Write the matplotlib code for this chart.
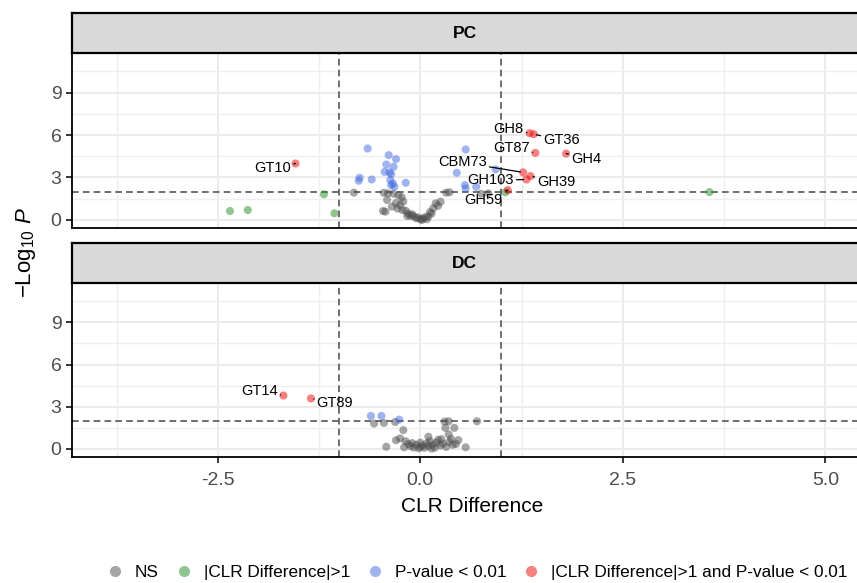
import numpy as np
import matplotlib
matplotlib.use("Agg")
import matplotlib.pyplot as plt
from matplotlib.lines import Line2D

plt.rcParams['font.family'] = ['Liberation Sans', 'DejaVu Sans']
plt.rcParams['mathtext.fontset'] = 'custom'
plt.rcParams['mathtext.rm'] = 'Liberation Sans'
plt.rcParams['mathtext.it'] = 'Liberation Sans:italic'

# ---- data: PC panel ----
pc_ns_x = [-0.82, -0.45, -0.40, -0.33, -0.27, -0.23, -0.21, -0.41, -0.30, -0.35, -0.43,
           -0.28, -0.22, -0.18, -0.15, -0.10, -0.08, -0.03, 0.00, 0.03, 0.06, 0.10, 0.14,
           0.16, 0.19, 0.25, 0.32, 0.36, 0.84, 0.75, -0.12, -0.05, 0.08, 0.12, -0.25, 0.22,
           -0.46, -0.16, 0.02]
pc_ns_y = [1.93, 1.92, 1.88, 1.85, 1.75, 1.60, 1.30, 1.41, 1.20, 0.94, 0.59,
           0.80, 0.70, 0.65, 0.45, 0.40, 0.25, 0.18, 0.05, 0.10, 0.20, 0.25, 0.45,
           0.82, 1.17, 1.29, 1.93, 1.95, 1.88, 1.85, 0.30, 0.12, 0.05, 0.55, 1.05, 1.00,
           0.63, 0.28, 0.00]
pc_fc_x = [-1.19, -2.35, -2.13, -1.06, 1.05, 3.57]
pc_fc_y = [1.81, 0.63, 0.70, 0.47, 1.95, 1.97]
pc_p_x = [-0.65, -0.39, -0.30, -0.42, -0.33, -0.44, -0.38, -0.36, -0.75, -0.76, -0.60,
          -0.37, -0.34, -0.18, -0.32, -0.36, 0.56, 0.45, 0.93, 0.55, 0.56, 0.69]
pc_p_y = [5.05, 4.58, 4.30, 3.92, 3.76, 3.40, 3.36, 3.24, 2.98, 2.77, 2.86,
          2.82, 2.58, 2.63, 2.35, 2.46, 4.98, 3.33, 3.57, 2.46, 2.23, 2.35]
pc_sig_lab = ['GT10', 'GH8', 'GT36', 'GT87', 'GH4', 'CBM73', 'GH103', 'GH39', 'GH59']
pc_sig_x = [-1.54, 1.35, 1.40, 1.42, 1.80, 1.27, 1.31, 1.36, 1.08]
pc_sig_y = [3.99, 6.13, 6.06, 4.74, 4.69, 3.36, 2.86, 3.10, 2.11]

# ---- data: DC panel ----
dc_ns_x = [-0.57, -0.45, -0.31, 0.30, 0.35, 0.70, 0.31, 0.42, -0.21, 0.35, -0.25, -0.30,
           0.47, -0.42, 0.56, -0.15, -0.12, -0.08, -0.05, -0.02, 0.00, 0.03, 0.05, 0.08,
           0.10, 0.12, 0.15, 0.18, 0.20, 0.22, 0.25, 0.28, 0.32, 0.36, 0.40, 0.44, -0.18,
           0.00, 0.14, -0.10, 0.26, 0.38, 0.10, -0.20]
dc_ns_y = [1.81, 1.85, 1.92, 1.95, 1.97, 1.97, 1.50, 1.50, 1.34, 1.04, 0.75, 0.62,
           0.63, 0.16, 0.12, 0.35, 0.20, 0.10, 0.30, 0.05, 0.15, 0.25, 0.08, 0.40,
           0.20, 0.55, 0.30, 0.10, 0.45, 0.65, 0.25, 0.38, 0.15, 0.50, 0.30, 0.35, 0.55,
           0.45, 0.02, 0.42, 0.70, 0.72, 0.87, 0.12]
dc_fc_x = []
dc_fc_y = []
dc_p_x = [-0.61, -0.48, -0.26]
dc_p_y = [2.35, 2.35, 2.09]
dc_sig_lab = ['GT14', 'GT89']
dc_sig_x = [-1.69, -1.35]
dc_sig_y = [3.80, 3.59]

panels = [
    ('PC', pc_ns_x, pc_ns_y, pc_fc_x, pc_fc_y, pc_p_x, pc_p_y, pc_sig_x, pc_sig_y, pc_sig_lab),
    ('DC', dc_ns_x, dc_ns_y, dc_fc_x, dc_fc_y, dc_p_x, dc_p_y, dc_sig_x, dc_sig_y, dc_sig_lab),
]

# label offsets in pixels
label_offsets = {
    'GT10': (-23, -5), 'GH8': (-21, 4), 'GT36': (28, -6), 'GT87': (-24, 5),
    'GH4': (20, -5), 'CBM73': (-61, 10), 'GH103': (-36, -1), 'GH39': (26, -6),
    'GH59': (-24, -10), 'GT14': (-24, 5), 'GT89': (24, -5),
}

colors = ['#4D4D4D', '#228B22', '#4169E1', '#EE0000']
legend_labels = ['NS', '|CLR Difference|>1', 'P-value < 0.01',
                 '|CLR Difference|>1 and P-value < 0.01']

W, H = 857, 583
fig = plt.figure(figsize=(W / 100, H / 100), dpi=100)

panel_boxes = [(53, 228), (283, 457)]   # top/bottom pixel rows of each panel
strip_h = 40
left_px = 72
right_px = 874  # panel runs past the right edge of the image
ax_w = (right_px - left_px) / W

for (name, nsx, nsy, fcx, fcy, px, py, sx, sy, labs), (top, bot) in zip(panels, panel_boxes):
    ax = fig.add_axes([left_px / W, 1 - bot / H, ax_w, (bot - top) / H])
    ax.set_xlim(-4.3, -4.3 + (right_px - left_px) / 81.0)
    ax.set_ylim(-0.57, 11.8)
    ax.set_xticks([-2.5, 0.0, 2.5, 5.0])
    ax.set_xticks([-3.75, -1.25, 1.25, 3.75], minor=True)
    ax.set_yticks([0, 3, 6, 9])
    ax.set_yticks([1.5, 4.5, 7.5, 10.5], minor=True)
    ax.grid(which='major', color='#EBEBEB', lw=1.4, zorder=0)
    ax.grid(which='minor', color='#EFEFEF', lw=1.0, zorder=0)
    ax.set_axisbelow(True)
    for s in ['top', 'right']:
        ax.spines[s].set_visible(False)
    for s in ['left', 'bottom']:
        ax.spines[s].set_color('black')
        ax.spines[s].set_linewidth(1.3)
    ax.tick_params(which='minor', length=0)
    ax.tick_params(axis='y', length=4.5, width=1.1, labelsize=14, labelcolor='#4D4D4D', pad=3)
    if name == 'PC':
        ax.tick_params(axis='x', length=0, labelbottom=False)
    else:
        ax.tick_params(axis='x', length=4.5, width=1.1, labelsize=14, labelcolor='#4D4D4D', pad=6)
        ax.set_xticklabels(['-2.5', '0.0', '2.5', '5.0'])

    ax.axhline(2, color='#555555', lw=1.2, ls=(0, (4, 2.5)), zorder=1)
    ax.axvline(-1, color='#555555', lw=1.2, ls=(0, (4, 2.5)), zorder=1)
    ax.axvline(1, color='#555555', lw=1.2, ls=(0, (4, 2.5)), zorder=1)

    kw = dict(s=34, alpha=0.5, edgecolors='none', zorder=3)
    ax.scatter(nsx, nsy, color=colors[0], **kw)
    if fcx:
        ax.scatter(fcx, fcy, color=colors[1], **kw)
    ax.scatter(px, py, color=colors[2], **kw)
    ax.scatter(sx, sy, color=colors[3], **kw)

    for lab, x, y in zip(labs, sx, sy):
        ax.annotate(lab, xy=(x, y), xytext=label_offsets[lab], textcoords='offset pixels',
                    ha='center', va='center', fontsize=10.5, color='black', zorder=4,
                    arrowprops=dict(arrowstyle='-', color='black', lw=0.9,
                                    shrinkA=0, shrinkB=2))

    # facet strip
    sax = fig.add_axes([left_px / W, 1 - top / H, ax_w, strip_h / H])
    sax.set_facecolor('#D9D9D9')
    sax.set_xticks([])
    sax.set_yticks([])
    for s in sax.spines.values():
        s.set_color('black')
        s.set_linewidth(1.6)
    fig.text((left_px + (W - left_px) / 2) / W, 1 - (top - strip_h / 2) / H, name,
             ha='center', va='center', fontsize=12.5, fontweight='bold')

fig.text(472 / W, 1 - 507 / H, 'CLR Difference', ha='center', va='center', fontsize=15)
fig.text(26 / W, 1 - 252 / H, r'$-\mathrm{Log}_{10}\ \mathit{P}$', rotation=90,
         ha='center', va='center', fontsize=16)

handles = [Line2D([], [], marker='o', ls='none', markersize=8, color=c, alpha=0.5,
                  markeredgewidth=0) for c in colors]
fig.legend(handles, legend_labels, loc='center', bbox_to_anchor=(478 / W, 1 - 572 / H),
           ncol=4, frameon=False, fontsize=12.4, handlelength=0.8, handletextpad=0.75,
           columnspacing=1.05, borderpad=0)

fig.savefig('out.png', dpi=100)
